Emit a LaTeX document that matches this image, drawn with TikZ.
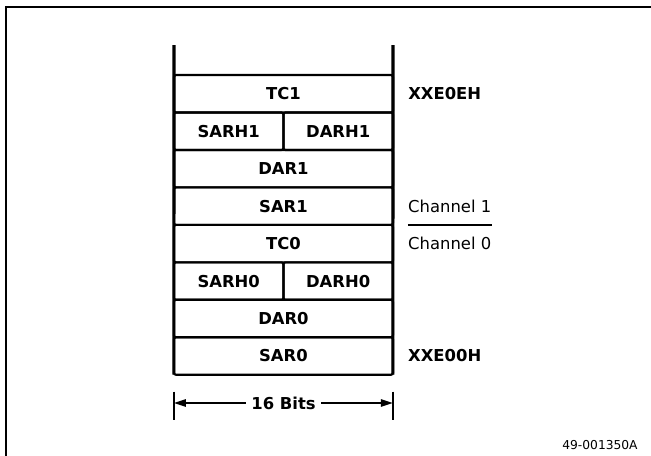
\documentclass[tikz,border=0pt]{standalone}
\usepackage{fontspec}
\setmainfont{DejaVu Sans}
\usetikzlibrary{arrows.meta, positioning}

\begin{document}
\begin{tikzpicture}[
    x=0.75pt, y=-0.75pt,
    every node/.style={font=\fontsize{12.3}{14}\selectfont},
    reg/.style={rectangle, draw, line width=1.6pt, rounded corners=1.5pt, minimum width=164.25pt, minimum height=28.1pt, inner sep=0pt, outer sep=0pt, font=\fontsize{12.3}{14}\selectfont\bfseries},
    half/.style={reg, minimum width=82.1pt},
    addr/.style={anchor=west, inner sep=0pt, font=\fontsize{12.3}{14}\selectfont\bfseries},
    chan/.style={anchor=west, inner sep=0pt},
    wall/.style={line width=2.3pt},
    arrow/.style={-{Triangle[length=9pt,width=5.5pt]}, line width=1.2pt}
]
\useasboundingbox (0,0) rectangle (651,456);
\draw[line width=1.5pt] (6,456) -- (6,7) -- (651,7);

% register stack
\node (tc1) [reg] at (283.5,93.75) {TC1};
\node (sarh1) [half, anchor=north west] at (tc1.south west) {SARH1};
\node (darh1) [half, right=0pt of sarh1] {DARH1};
\node (dar1) [reg, below=0pt of sarh1.south east] {DAR1};
\node (sar1) [reg, below=0pt of dar1] {SAR1};
\node (tc0) [reg, below=0pt of sar1] {TC0};
\node (sarh0) [half, anchor=north west] at (tc0.south west) {SARH0};
\node (darh0) [half, right=0pt of sarh0] {DARH0};
\node (dar0) [reg, below=0pt of sarh0.south east] {DAR0};
\node (sar0) [reg, below=0pt of dar0] {SAR0};

\draw[wall] ([yshift=22.5pt]tc1.north west) -- (sar0.south west);
\draw[wall] ([yshift=22.5pt]tc1.north east) -- (sar0.south east);

% addresses and channels
\node (top) [addr, right=11.25pt of tc1] {XXE0EH};
\node (ch1) [chan, right=11.25pt of sar1] {Channel 1};
\node (ch0) [chan, right=11.25pt of tc0] {Channel 0};
\node (base) [addr, right=11.25pt of sar0] {XXE00H};
\draw[line width=1.3pt] ([xshift=11.25pt]sar1.south east) -- ([xshift=74pt]sar1.south east);

% width
\node (bits) [font=\fontsize{12.3}{14}\selectfont\bfseries, inner sep=4pt] at (283.5,403) {16 Bits};
\coordinate (bl) at (bits -| sar0.west);
\coordinate (br) at (bits -| sar0.east);
\draw[line width=1.3pt] ([yshift=8.5pt]bl) -- ([yshift=-12.5pt]bl);
\draw[line width=1.3pt] ([yshift=8.5pt]br) -- ([yshift=-12.5pt]br);
\draw[arrow] (bits) -- (bl);
\draw[arrow] (bits) -- (br);

\node (fig) [font=\fontsize{9.2}{11}\selectfont] at (600,445) {49-001350A};
\end{tikzpicture}
\end{document}
